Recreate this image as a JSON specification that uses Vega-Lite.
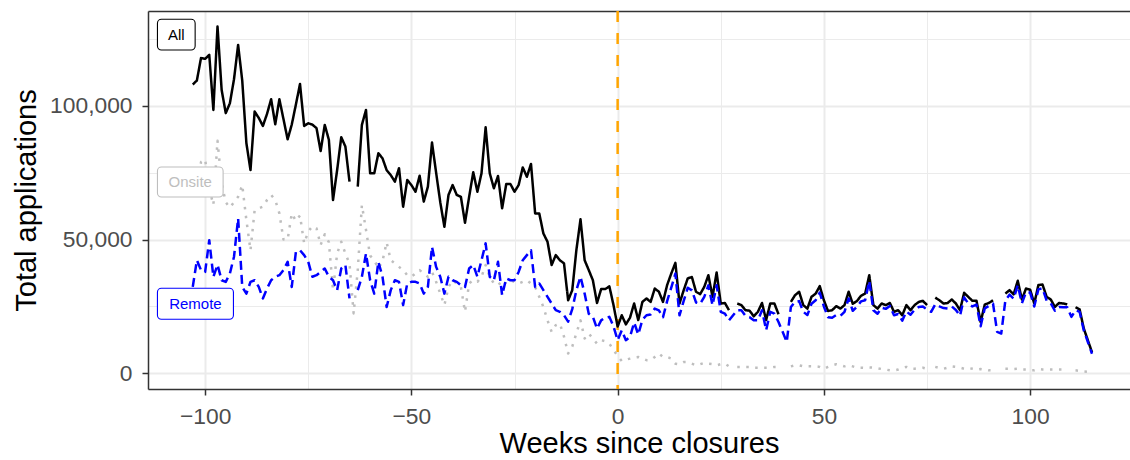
{
  "$schema": "https://vega.github.io/schema/vega-lite/v6.json",
  "width": 982,
  "height": 378,
  "autosize": {"type": "none"},
  "padding": {"left": 148, "top": 11, "right": 0, "bottom": 71},
  "background": "white",
  "config": {
    "view": {"stroke": null},
    "axis": {
      "domainColor": "#333333", "domainWidth": 1.5,
      "tickColor": "#333333", "tickWidth": 1.5, "tickSize": 6,
      "labelColor": "#4D4D4D", "labelFont": "Liberation Sans", "labelFontSize": 22.8, "labelPadding": 10,
      "titleFont": "Liberation Sans", "titleFontSize": 29, "titleFontWeight": "normal", "titleColor": "#000000",
      "gridColor": "#EBEBEB"
    }
  },
  "resolve": {"axis": {"x": "independent", "y": "independent"}},
  "layer": [
    {
      "data": {"values": [{"week": 0}]},
      "mark": {"type": "rule", "color": "#FFA500", "strokeWidth": 2.5, "strokeDash": [11, 11]},
      "encoding": {
        "x": {"field": "week", "type": "quantitative", "scale": {"domain": [-113.85, 124.21], "nice": false, "zero": false}, "axis": null}
      }
    },
    {
      "data": {"values": [
        {"week":-103,"All":108000,"Onsite":75600,"Remote":32300},
        {"week":-102,"All":109500,"Onsite":67000,"Remote":42300},
        {"week":-101,"All":117900,"Onsite":79000,"Remote":38600},
        {"week":-100,"All":117600,"Onsite":80000,"Remote":37900},
        {"week":-99,"All":119100,"Onsite":69000,"Remote":49800},
        {"week":-98,"All":98500,"Onsite":63000,"Remote":36100},
        {"week":-97,"All":129700,"Onsite":87000,"Remote":40600},
        {"week":-96,"All":106000,"Onsite":71000,"Remote":34800},
        {"week":-95,"All":97300,"Onsite":64000,"Remote":34200},
        {"week":-94,"All":101000,"Onsite":62000,"Remote":37300},
        {"week":-93,"All":110000,"Onsite":64000,"Remote":43600},
        {"week":-92,"All":122800,"Onsite":66000,"Remote":57900},
        {"week":-91,"All":109400,"Onsite":70400,"Remote":32300},
        {"week":-90,"All":86100,"Onsite":57300,"Remote":29800},
        {"week":-89,"All":76000,"Onsite":46000,"Remote":34200},
        {"week":-88,"All":97900,"Onsite":61000,"Remote":34800},
        {"week":-87,"All":95500,"Onsite":61700,"Remote":32300},
        {"week":-86,"All":92500,"Onsite":62300,"Remote":28000},
        {"week":-85,"All":97000,"Onsite":64800,"Remote":31700},
        {"week":-84,"All":102500,"Onsite":66700,"Remote":34800},
        {"week":-83,"All":93100,"Onsite":64800,"Remote":36100},
        {"week":-82,"All":102500,"Onsite":59800,"Remote":36700},
        {"week":-81,"All":95000,"Onsite":50000,"Remote":38600},
        {"week":-80,"All":87500,"Onsite":50000,"Remote":41700},
        {"week":-79,"All":93000,"Onsite":59800,"Remote":32300},
        {"week":-78,"All":100500,"Onsite":57000,"Remote":45400},
        {"week":-77,"All":108200,"Onsite":59000,"Remote":46000},
        {"week":-76,"All":92500,"Onsite":48600,"Remote":44200},
        {"week":-75,"All":93500,"Onsite":53000,"Remote":41700},
        {"week":-74,"All":93000,"Onsite":55000,"Remote":36100},
        {"week":-73,"All":91700,"Onsite":54200,"Remote":36700},
        {"week":-72,"All":83100,"Onsite":48000,"Remote":37900},
        {"week":-71,"All":92900,"Onsite":52000,"Remote":39200},
        {"week":-70,"All":87300,"Onsite":49000,"Remote":36100},
        {"week":-69,"All":64800,"Onsite":31000,"Remote":34800},
        {"week":-68,"All":76000,"Onsite":44800,"Remote":31100},
        {"week":-67,"All":88300,"Onsite":49200,"Remote":39200},
        {"week":-66,"All":84800,"Onsite":44800,"Remote":40500},
        {"week":-65,"All":71700,"Onsite":41000,"Remote":28000},
        {"week":-64,"All":null,"Onsite":22400,"Remote":null},
        {"week":-63,"All":69800,"Onsite":38600,"Remote":31100},
        {"week":-62,"All":92900,"Onsite":62900,"Remote":36100},
        {"week":-61,"All":98500,"Onsite":53600,"Remote":44800},
        {"week":-60,"All":74800,"Onsite":44000,"Remote":34800},
        {"week":-59,"All":74800,"Onsite":42300,"Remote":29800},
        {"week":-58,"All":82300,"Onsite":39200,"Remote":41700},
        {"week":-57,"All":80400,"Onsite":42000,"Remote":36100},
        {"week":-56,"All":76000,"Onsite":49000,"Remote":24800},
        {"week":-55,"All":74100,"Onsite":42300,"Remote":31100},
        {"week":-54,"All":71700,"Onsite":41100,"Remote":34800},
        {"week":-53,"All":76700,"Onsite":39800,"Remote":34200},
        {"week":-52,"All":62300,"Onsite":38600,"Remote":25500},
        {"week":-51,"All":72300,"Onsite":36700,"Remote":33600},
        {"week":-50,"All":70400,"Onsite":36100,"Remote":34200},
        {"week":-49,"All":67900,"Onsite":37300,"Remote":34200},
        {"week":-48,"All":73900,"Onsite":38600,"Remote":33600},
        {"week":-47,"All":64200,"Onsite":37300,"Remote":29800},
        {"week":-46,"All":69800,"Onsite":36100,"Remote":32300},
        {"week":-45,"All":86300,"Onsite":37900,"Remote":47300},
        {"week":-44,"All":75000,"Onsite":34200,"Remote":39800},
        {"week":-43,"All":64000,"Onsite":29800,"Remote":36100},
        {"week":-42,"All":54800,"Onsite":25500,"Remote":29800},
        {"week":-41,"All":66700,"Onsite":32300,"Remote":36100},
        {"week":-40,"All":70400,"Onsite":34800,"Remote":34800},
        {"week":-39,"All":66700,"Onsite":33600,"Remote":34200},
        {"week":-38,"All":66000,"Onsite":32300,"Remote":32900},
        {"week":-37,"All":56300,"Onsite":23000,"Remote":32300},
        {"week":-36,"All":66000,"Onsite":33600,"Remote":39200},
        {"week":-35,"All":75200,"Onsite":34800,"Remote":40500},
        {"week":-34,"All":67900,"Onsite":34200,"Remote":36100},
        {"week":-33,"All":74800,"Onsite":36100,"Remote":42300},
        {"week":-32,"All":92000,"Onsite":40500,"Remote":48600},
        {"week":-31,"All":74800,"Onsite":36100,"Remote":36100},
        {"week":-30,"All":69200,"Onsite":33600,"Remote":34800},
        {"week":-29,"All":73800,"Onsite":34200,"Remote":41700},
        {"week":-28,"All":61700,"Onsite":32300,"Remote":29200},
        {"week":-27,"All":70800,"Onsite":34200,"Remote":35500},
        {"week":-26,"All":70800,"Onsite":34800,"Remote":34800},
        {"week":-25,"All":67900,"Onsite":34200,"Remote":34800},
        {"week":-24,"All":70400,"Onsite":33600,"Remote":37900},
        {"week":-23,"All":77000,"Onsite":34200,"Remote":42300},
        {"week":-22,"All":73500,"Onsite":34800,"Remote":44200},
        {"week":-21,"All":78300,"Onsite":33600,"Remote":46000},
        {"week":-20,"All":59800,"Onsite":32300,"Remote":32300},
        {"week":-19,"All":59800,"Onsite":28600,"Remote":33600},
        {"week":-18,"All":52300,"Onsite":24800,"Remote":31100},
        {"week":-17,"All":49200,"Onsite":19800,"Remote":28600},
        {"week":-16,"All":40500,"Onsite":15500,"Remote":26100},
        {"week":-15,"All":44200,"Onsite":18000,"Remote":23600},
        {"week":-14,"All":42300,"Onsite":18600,"Remote":23000},
        {"week":-13,"All":41100,"Onsite":13700,"Remote":21700},
        {"week":-12,"All":27300,"Onsite":7400,"Remote":19300},
        {"week":-11,"All":31100,"Onsite":10000,"Remote":24000},
        {"week":-10,"All":46100,"Onsite":15000,"Remote":31100},
        {"week":-9,"All":57600,"Onsite":19800,"Remote":36100},
        {"week":-8,"All":42300,"Onsite":13000,"Remote":29800},
        {"week":-7,"All":38600,"Onsite":14900,"Remote":22300},
        {"week":-6,"All":34800,"Onsite":13000,"Remote":21100},
        {"week":-5,"All":26300,"Onsite":11100,"Remote":16700},
        {"week":-4,"All":31500,"Onsite":12400,"Remote":19800},
        {"week":-3,"All":31500,"Onsite":12000,"Remote":20800},
        {"week":-2,"All":32500,"Onsite":11100,"Remote":21100},
        {"week":-1,"All":25500,"Onsite":8700,"Remote":17500},
        {"week":0,"All":17500,"Onsite":6500,"Remote":12400},
        {"week":1,"All":21700,"Onsite":4600,"Remote":16100},
        {"week":2,"All":18300,"Onsite":5100,"Remote":12400},
        {"week":3,"All":20800,"Onsite":5500,"Remote":13600},
        {"week":4,"All":26100,"Onsite":5900,"Remote":19000},
        {"week":5,"All":19900,"Onsite":6100,"Remote":14500},
        {"week":6,"All":26700,"Onsite":5500,"Remote":20000},
        {"week":7,"All":28000,"Onsite":4900,"Remote":21700},
        {"week":8,"All":26700,"Onsite":4900,"Remote":22000},
        {"week":9,"All":31700,"Onsite":6100,"Remote":24200},
        {"week":10,"All":30500,"Onsite":7400,"Remote":23500},
        {"week":11,"All":26700,"Onsite":6100,"Remote":21000},
        {"week":12,"All":33000,"Onsite":6100,"Remote":27000},
        {"week":13,"All":37300,"Onsite":5500,"Remote":32000},
        {"week":14,"All":41300,"Onsite":3600,"Remote":37300},
        {"week":15,"All":26100,"Onsite":3400,"Remote":21700},
        {"week":16,"All":31000,"Onsite":4200,"Remote":27000},
        {"week":17,"All":35500,"Onsite":4200,"Remote":32000},
        {"week":18,"All":36000,"Onsite":3600,"Remote":31000},
        {"week":19,"All":30500,"Onsite":3000,"Remote":26500},
        {"week":20,"All":29600,"Onsite":3400,"Remote":26000},
        {"week":21,"All":32300,"Onsite":3900,"Remote":28600},
        {"week":22,"All":36700,"Onsite":3600,"Remote":32900},
        {"week":23,"All":28600,"Onsite":3400,"Remote":25500},
        {"week":24,"All":37700,"Onsite":3000,"Remote":32900},
        {"week":25,"All":26100,"Onsite":3400,"Remote":23000},
        {"week":26,"All":26300,"Onsite":3600,"Remote":22300},
        {"week":27,"All":23600,"Onsite":2600,"Remote":19800},
        {"week":28,"All":null,"Onsite":null,"Remote":21700},
        {"week":29,"All":26100,"Onsite":2400,"Remote":23600},
        {"week":30,"All":25500,"Onsite":2400,"Remote":23600},
        {"week":31,"All":23600,"Onsite":2400,"Remote":21500},
        {"week":32,"All":23400,"Onsite":2400,"Remote":21000},
        {"week":33,"All":21300,"Onsite":2100,"Remote":19800},
        {"week":34,"All":23000,"Onsite":2100,"Remote":19800},
        {"week":35,"All":26300,"Onsite":2100,"Remote":23600},
        {"week":36,"All":19900,"Onsite":2100,"Remote":16100},
        {"week":37,"All":26100,"Onsite":2100,"Remote":23000},
        {"week":38,"All":26100,"Onsite":2400,"Remote":22300},
        {"week":39,"All":22100,"Onsite":2400,"Remote":19200},
        {"week":40,"All":null,"Onsite":null,"Remote":15500},
        {"week":41,"All":null,"Onsite":null,"Remote":11700},
        {"week":42,"All":26700,"Onsite":2600,"Remote":24800},
        {"week":43,"All":29200,"Onsite":3000,"Remote":26700},
        {"week":44,"All":30500,"Onsite":3000,"Remote":27000},
        {"week":45,"All":25500,"Onsite":2600,"Remote":23000},
        {"week":46,"All":24200,"Onsite":2600,"Remote":21800},
        {"week":47,"All":28600,"Onsite":2600,"Remote":26000},
        {"week":48,"All":29800,"Onsite":2600,"Remote":27300},
        {"week":49,"All":32600,"Onsite":2400,"Remote":30200},
        {"week":50,"All":27300,"Onsite":1700,"Remote":25000},
        {"week":51,"All":23300,"Onsite":2400,"Remote":21000},
        {"week":52,"All":23600,"Onsite":3000,"Remote":20800},
        {"week":53,"All":25100,"Onsite":3400,"Remote":21800},
        {"week":54,"All":24200,"Onsite":3000,"Remote":21500},
        {"week":55,"All":25500,"Onsite":2600,"Remote":23000},
        {"week":56,"All":30500,"Onsite":3000,"Remote":28000},
        {"week":57,"All":26000,"Onsite":2600,"Remote":23400},
        {"week":58,"All":27000,"Onsite":2100,"Remote":24900},
        {"week":59,"All":29000,"Onsite":2100,"Remote":26900},
        {"week":60,"All":29800,"Onsite":2000,"Remote":27300},
        {"week":61,"All":36700,"Onsite":2200,"Remote":34500},
        {"week":62,"All":25500,"Onsite":2100,"Remote":23600},
        {"week":63,"All":24200,"Onsite":1900,"Remote":22300},
        {"week":64,"All":26100,"Onsite":1600,"Remote":24500},
        {"week":65,"All":25500,"Onsite":1400,"Remote":24100},
        {"week":66,"All":26300,"Onsite":1100,"Remote":25200},
        {"week":67,"All":23000,"Onsite":1100,"Remote":21700},
        {"week":68,"All":23600,"Onsite":1400,"Remote":22200},
        {"week":69,"All":21700,"Onsite":2000,"Remote":19700},
        {"week":70,"All":25500,"Onsite":2400,"Remote":23100},
        {"week":71,"All":23600,"Onsite":1700,"Remote":21900},
        {"week":72,"All":25500,"Onsite":1700,"Remote":23800},
        {"week":73,"All":26700,"Onsite":1900,"Remote":24800},
        {"week":74,"All":27100,"Onsite":2100,"Remote":25000},
        {"week":75,"All":25500,"Onsite":1700,"Remote":23800},
        {"week":76,"All":null,"Onsite":null,"Remote":23000},
        {"week":77,"All":28300,"Onsite":2400,"Remote":25800},
        {"week":78,"All":27300,"Onsite":2000,"Remote":25000},
        {"week":79,"All":26100,"Onsite":1700,"Remote":24400},
        {"week":80,"All":26300,"Onsite":2100,"Remote":24200},
        {"week":81,"All":27600,"Onsite":2600,"Remote":25000},
        {"week":82,"All":26100,"Onsite":2400,"Remote":23700},
        {"week":83,"All":23600,"Onsite":2100,"Remote":21500},
        {"week":84,"All":30100,"Onsite":1700,"Remote":28400},
        {"week":85,"All":28600,"Onsite":2000,"Remote":26100},
        {"week":86,"All":27100,"Onsite":1700,"Remote":25000},
        {"week":87,"All":27100,"Onsite":1400,"Remote":25700},
        {"week":88,"All":19200,"Onsite":1600,"Remote":17600},
        {"week":89,"All":25700,"Onsite":1400,"Remote":24300},
        {"week":90,"All":26300,"Onsite":1100,"Remote":25200},
        {"week":91,"All":27300,"Onsite":1100,"Remote":26100},
        {"week":92,"All":null,"Onsite":null,"Remote":15500},
        {"week":93,"All":null,"Onsite":null,"Remote":14900},
        {"week":94,"All":29800,"Onsite":1700,"Remote":27300},
        {"week":95,"All":31100,"Onsite":1700,"Remote":29400},
        {"week":96,"All":29500,"Onsite":1600,"Remote":27900},
        {"week":97,"All":34600,"Onsite":1700,"Remote":32900},
        {"week":98,"All":27600,"Onsite":1400,"Remote":26200},
        {"week":99,"All":31700,"Onsite":1400,"Remote":30300},
        {"week":100,"All":31300,"Onsite":1100,"Remote":30200},
        {"week":101,"All":26100,"Onsite":1100,"Remote":25000},
        {"week":102,"All":33000,"Onsite":1600,"Remote":31400},
        {"week":103,"All":33200,"Onsite":1400,"Remote":31800},
        {"week":104,"All":28600,"Onsite":1400,"Remote":27200},
        {"week":105,"All":27600,"Onsite":1400,"Remote":26200},
        {"week":106,"All":24800,"Onsite":1400,"Remote":23400},
        {"week":107,"All":26300,"Onsite":1400,"Remote":24800},
        {"week":108,"All":26100,"Onsite":1400,"Remote":24700},
        {"week":109,"All":25800,"Onsite":1100,"Remote":24700},
        {"week":110,"All":null,"Onsite":null,"Remote":21100},
        {"week":111,"All":24700,"Onsite":1100,"Remote":23600},
        {"week":112,"All":23900,"Onsite":900,"Remote":23000},
        {"week":113,"All":16800,"Onsite":700,"Remote":16100},
        {"week":114,"All":12300,"Onsite":600,"Remote":11700},
        {"week":115,"All":7850,"Onsite":550,"Remote":7300}
      ]},
      "transform": [{"fold": ["All", "Onsite", "Remote"], "as": ["series", "applications"]}],
      "mark": {"type": "line", "strokeWidth": 2.5, "strokeCap": "butt", "strokeJoin": "round", "invalid": "break-paths-filter-domains"},
      "encoding": {
        "x": {
          "field": "week", "type": "quantitative",
          "scale": {"domain": [-113.85, 124.21], "nice": false, "zero": false},
          "axis": {
            "values": [-100, -75, -50, -25, 0, 25, 50, 75, 100],
            "labelExpr": "datum.value % 50 === 0 ? datum.label : ''",
            "tickOpacity": {"condition": {"test": "datum.value % 50 !== 0", "value": 0}, "value": 1},
            "gridWidth": {"condition": {"test": "datum.value % 50 !== 0", "value": 1}, "value": 2},
            "grid": true, "labelFlush": false, "labelOverlap": false,
            "title": "Weeks since closures", "titlePadding": 2
          }
        },
        "y": {
          "field": "applications", "type": "quantitative",
          "scale": {"domain": [-5870, 135490], "nice": false, "zero": false},
          "axis": {
            "values": [0, 25000, 50000, 75000, 100000, 125000],
            "labelExpr": "datum.value % 50000 === 0 ? format(datum.value, ',') : ''",
            "tickOpacity": {"condition": {"test": "datum.value % 50000 !== 0", "value": 0}, "value": 1},
            "gridWidth": {"condition": {"test": "datum.value % 50000 !== 0", "value": 1}, "value": 2},
            "grid": true, "labelOverlap": false,
            "title": "Total applications", "titlePadding": 8
          }
        },
        "color": {
          "field": "series", "type": "nominal",
          "scale": {"domain": ["All", "Onsite", "Remote"], "range": ["#000000", "#BEBEBE", "#0000FF"]},
          "legend": null
        },
        "strokeDash": {
          "field": "series", "type": "nominal",
          "scale": {"domain": ["All", "Onsite", "Remote"], "range": [[1, 0], [2.5, 6.5], [9, 5]]},
          "legend": null
        }
      }
    },
    {
      "data": {"name": "labels", "values": [
        {"series": "All", "x": -106.99, "y": 126645},
        {"series": "Onsite", "x": -103.6, "y": 71540},
        {"series": "Remote", "x": -102.35, "y": 25990}
      ]},
      "mark": {"type": "point", "filled": true, "fill": "#FFFFFF", "fillOpacity": 1, "opacity": 1, "size": 5776, "strokeWidth": 1.1},
      "encoding": {
        "x": {"field": "x", "type": "quantitative", "scale": {"domain": [-113.85, 124.21], "nice": false, "zero": false}, "axis": null},
        "y": {"field": "y", "type": "quantitative", "scale": {"domain": [-5870, 135490], "nice": false, "zero": false}, "axis": null},
        "shape": {
          "field": "series", "type": "nominal",
          "scale": {"domain": ["All", "Onsite", "Remote"], "range": [
            "M-0.391,-0.404H0.391A0.105,0.105 0 0 1 0.496,-0.299V0.299A0.105,0.105 0 0 1 0.391,0.404H-0.391A0.105,0.105 0 0 1 -0.496,0.299V-0.299A0.105,0.105 0 0 1 -0.391,-0.404Z",
            "M-0.759,-0.395H0.759A0.105,0.105 0 0 1 0.864,-0.29V0.29A0.105,0.105 0 0 1 0.759,0.395H-0.759A0.105,0.105 0 0 1 -0.864,0.29V-0.29A0.105,0.105 0 0 1 -0.759,-0.395Z",
            "M-0.895,-0.408H0.895A0.105,0.105 0 0 1 1,-0.303V0.303A0.105,0.105 0 0 1 0.895,0.408H-0.895A0.105,0.105 0 0 1 -1,0.303V-0.303A0.105,0.105 0 0 1 -0.895,-0.408Z"
          ]},
          "legend": null
        },
        "stroke": {
          "field": "series", "type": "nominal",
          "scale": {"domain": ["All", "Onsite", "Remote"], "range": ["#000000", "#BEBEBE", "#0000FF"]},
          "legend": null
        }
      }
    },
    {
      "data": {"name": "labels"},
      "mark": {"type": "text", "font": "Liberation Sans", "fontSize": 15, "align": "center", "baseline": "middle"},
      "encoding": {
        "x": {
          "field": "x", "type": "quantitative",
          "scale": {"domain": [-113.85, 124.21], "nice": false, "zero": false},
          "axis": {"orient": "top", "labels": false, "ticks": false, "grid": false, "domain": true, "title": null}
        },
        "y": {"field": "y", "type": "quantitative", "scale": {"domain": [-5870, 135490], "nice": false, "zero": false}, "axis": null},
        "text": {"field": "series"},
        "color": {
          "field": "series", "type": "nominal",
          "scale": {"domain": ["All", "Onsite", "Remote"], "range": ["#000000", "#BEBEBE", "#0000FF"]},
          "legend": null
        }
      }
    }
  ]
}
